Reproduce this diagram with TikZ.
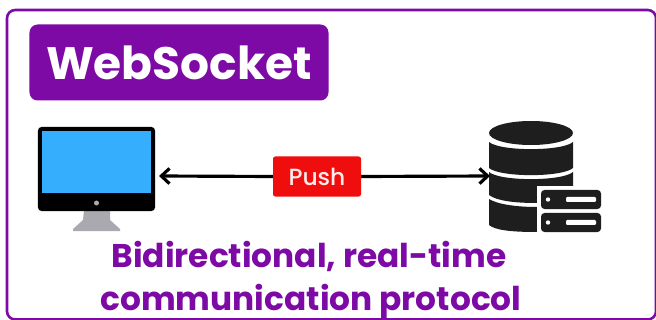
\documentclass[tikz,border=0pt]{standalone}
\usepackage{fontspec}
\setmainfont{Poppins}
\newfontfamily\pushfont{Poppins Medium}
\usetikzlibrary{positioning, arrows.meta}
\definecolor{wspurple}{HTML}{7D0AA5}
\definecolor{wsred}{HTML}{F00D0D}
\definecolor{wsblue}{HTML}{35AEFD}
\definecolor{wsdark}{HTML}{1E1E1E}
\definecolor{wsstand}{HTML}{ABA9B0}
\tikzset{
    link/.style={line width=2.7pt, black, -{Straight Barb[length=7pt,width=13pt]}},
    caption/.style={text=wspurple, font=\fontsize{28}{30}\selectfont\bfseries, inner sep=0pt},
    slab/.style={fill=wsdark, rounded corners=3pt, minimum width=1.8cm, minimum height=0.57cm, inner sep=0pt}
}
\begin{document}
\begin{tikzpicture}[x=0.03cm, y=-0.03cm]
    \useasboundingbox (0,0) rectangle (656,320);
    \fill[white] (0,0) rectangle (656,320);
    \draw[wspurple, line width=2.2pt, rounded corners=7pt] (7,10) rectangle (656,319.5); % frame

    \node [fill=wspurple, text=white, rounded corners=7pt, minimum width=8.97cm, minimum height=2.28cm,
           font=\fontsize{38.8}{40}\selectfont\bfseries, inner sep=0pt] (title) at (179,62.5) {WebSocket};

    \node [fill=wsred, text=white!92!wsred, rounded corners=2pt, minimum width=2.64cm, minimum height=1.2cm,
           font=\fontsize{20}{22}\pushfont, inner sep=0pt] (push) at (317,176.5) {Push};

    % monitor
    \fill[wsstand] (84,210) -- (110,210) -- (110,220) -- (120,229) -- (120,231) -- (73,231) -- (73,229) -- (83,220) -- cycle;
    \node [fill=black, rounded corners=3pt, minimum width=3.51cm, minimum height=2.52cm, inner sep=0pt] (monitor) at (96.5,169) {};
    \node [fill=wsblue, minimum width=3.27cm, minimum height=1.86cm, inner sep=0pt] (screen) at (96.5,162) {};
    \node [fill=wsstand, circle, minimum size=0.15cm, inner sep=0pt] (dot) at (96.5,203) {};
    \coordinate (monitorport) at (159,176);

    % database
    \fill[wsdark] (489,133) arc[start angle=180, end angle=540, x radius=42, y radius=12];
    \fill[wsdark] (489,142) .. controls (500,151.5) and (562,151.5) .. (573,142) -- (573,168) .. controls (562,177.5) and (500,177.5) .. (489,168) -- cycle;
    \fill[wsdark] (489,172) .. controls (500,181.5) and (562,181.5) .. (573,172) -- (573,190) -- (537,203) .. controls (515,203) and (497,201) .. (489,195) -- cycle;
    \fill[wsdark] (489,199) .. controls (497,204) and (515,207) .. (537,207) -- (537,232) .. controls (510,232) and (495,230) .. (489,225) -- cycle;
    \fill[white] (537,186) rectangle (605,236);
    \node [slab] (slab1) at (571,199.5) {};
    \node [slab] (slab2) at (571,222.5) {};
    \fill[white] (548,199.5) circle[radius=2.2];
    \fill[white] (548,222.5) circle[radius=2.2];
    \fill[white, rounded corners=1pt] (566,197) rectangle (596,202);
    \fill[white, rounded corners=1pt] (566,220) rectangle (596,225);
    \coordinate (dbport) at (490,176);

    \draw[link] (push.west) -- (monitorport);
    \draw[link] (push.east) -- (dbport);

    \node [caption] (line1) at (309,256) {Bidirectional, real-time};
    \node [caption, below=0.38cm of line1, xshift=0.06cm] (line2) {communication protocol};
\end{tikzpicture}
\end{document}
